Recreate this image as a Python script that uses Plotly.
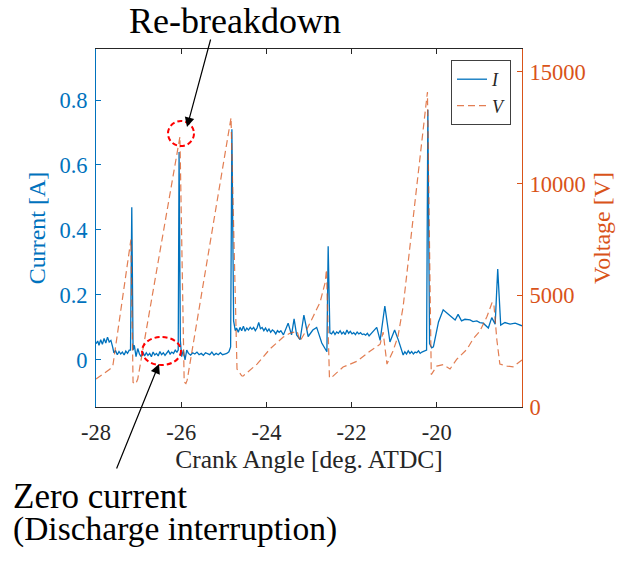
import plotly.graph_objects as go

# ---------------- data ----------------
crank_I = [-28.00, -27.96, -27.93, -27.89, -27.85, -27.81, -27.77, -27.73, -27.69, -27.65,
           -27.61, -27.58, -27.54, -27.50, -27.46, -27.42, -27.38, -27.34, -27.30, -27.26,
           -27.22, -27.19, -27.16, -27.13, -27.10, -27.06, -27.02, -26.98, -26.94, -26.90,
           -26.86, -26.82, -26.78, -26.74, -26.70, -26.66, -26.62, -26.58, -26.54, -26.50,
           -26.46, -26.42, -26.38, -26.34, -26.30, -26.26, -26.22, -26.18, -26.14, -26.10,
           -26.07, -26.05, -26.02, -25.99, -25.95, -25.91, -25.87, -25.83, -25.78, -25.73,
           -25.68, -25.63, -25.58, -25.53, -25.48, -25.43, -25.38, -25.33, -25.28, -25.23,
           -25.18, -25.13, -25.08, -25.03, -24.98, -24.93, -24.88, -24.84, -24.81, -24.77,
           -24.73, -24.70, -24.66, -24.62, -24.58, -24.54, -24.50, -24.46, -24.42, -24.38,
           -24.34, -24.30, -24.26, -24.22, -24.18, -24.14, -24.10, -24.06, -24.02, -23.98,
           -23.94, -23.90, -23.86, -23.82, -23.78, -23.74, -23.70, -23.66, -23.60, -23.49,
           -23.41, -23.35, -23.29, -23.21, -23.12, -23.02, -22.91, -22.82, -22.70, -22.58,
           -22.55, -22.51, -22.47, -22.43, -22.39, -22.35, -22.31, -22.27, -22.23, -22.19,
           -22.15, -22.11, -22.07, -22.03, -21.99, -21.95, -21.91, -21.87, -21.83, -21.79,
           -21.75, -21.71, -21.67, -21.63, -21.59, -21.55, -21.41, -21.33, -21.22, -21.10,
           -20.99, -20.90, -20.79, -20.75, -20.71, -20.67, -20.63, -20.59, -20.55, -20.51,
           -20.47, -20.43, -20.39, -20.35, -20.31, -20.27, -20.24, -20.21, -20.17, -20.12,
           -20.08, -19.96, -19.85, -19.77, -19.65, -19.57, -19.50, -19.42, -19.34, -19.22,
           -19.15, -19.06, -18.99, -18.91, -18.79, -18.71, -18.63, -18.57, -18.50, -18.40,
           -18.28, -18.16, -18.00]
current_A = [0.050, 0.058, 0.045, 0.062, 0.048, 0.066, 0.052, 0.070, 0.055, 0.060,
             0.040, 0.022, 0.028, 0.016, 0.026, 0.018, 0.024, 0.015, 0.027, 0.020,
             0.030, 0.030, 0.470, 0.030, 0.045, 0.010, 0.035, 0.018, 0.010, 0.025,
             0.012, 0.022, 0.014, 0.020, 0.010, 0.024, 0.015, 0.020, 0.012, 0.026,
             0.016, 0.022, 0.014, 0.020, 0.028, 0.018, 0.024, 0.020, 0.030, 0.024,
             0.030, 0.640, 0.060, 0.010, 0.030, 0.000, 0.030, 0.020, 0.015, 0.022,
             0.018, 0.024, 0.016, 0.020, 0.014, 0.022, 0.018, 0.016, 0.024, 0.015,
             0.020, 0.016, 0.022, 0.016, 0.018, 0.020, 0.025, 0.040, 0.710, 0.120,
             0.090, 0.098, 0.085, 0.100, 0.090, 0.104, 0.088, 0.098, 0.092, 0.100,
             0.094, 0.100, 0.090, 0.098, 0.115, 0.096, 0.100, 0.090, 0.098, 0.088,
             0.095, 0.085, 0.092, 0.088, 0.080, 0.090, 0.085, 0.090, 0.077, 0.113,
             0.077, 0.126, 0.077, 0.062, 0.138, 0.072, 0.092, 0.100, 0.052, 0.025,
             0.350, 0.083, 0.080, 0.088, 0.078, 0.086, 0.082, 0.090, 0.080, 0.086,
             0.078, 0.092, 0.082, 0.088, 0.080, 0.084, 0.078, 0.086, 0.080, 0.084,
             0.078, 0.080, 0.076, 0.082, 0.074, 0.080, 0.100, 0.060, 0.166, 0.055,
             0.092, 0.060, 0.015, 0.025, 0.018, 0.028, 0.020, 0.026, 0.018, 0.024,
             0.022, 0.028, 0.020, 0.024, 0.026, 0.030, 0.030, 0.770, 0.050, 0.037,
             0.040, 0.117, 0.154, 0.145, 0.132, 0.123, 0.140, 0.120, 0.125, 0.123,
             0.118, 0.120, 0.115, 0.113, 0.098, 0.130, 0.110, 0.280, 0.107, 0.115,
             0.110, 0.113, 0.105]

crank_V = [-28.00, -27.79, -27.67, -27.60, -27.18, -27.13, -27.07, -27.02, -26.03, -25.93,
           -25.89, -25.86, -24.83, -24.69, -24.58, -24.55, -24.22, -23.92, -23.61, -23.45,
           -23.28, -23.21, -23.05, -22.91, -22.74, -22.62, -22.59, -22.52, -22.46, -22.20,
           -21.87, -21.57, -21.33, -21.26, -21.17, -21.03, -20.91, -20.79, -20.22, -20.13,
           -20.00, -19.85, -19.69, -19.53, -19.29, -19.15, -18.99, -18.82, -18.70, -18.66,
           -18.59, -18.52, -18.35, -18.21, -18.05, -18.00]
voltage_V = [1250, 1560, 1700, 1900, 7500, 1100, 1030, 1250, 12100, 1120,
             1050, 1200, 12950, 1700, 1400, 1380, 1920, 2590, 3125, 3300,
             3390, 2950, 3480, 4020, 4690, 5580, 6150, 1300, 1340, 1790,
             2050, 2500, 2810, 3350, 1920, 2500, 3170, 4500, 14100, 1450,
             1830, 1900, 1700, 2140, 2590, 3040, 3390, 4060, 4690, 4600,
             3000, 1920, 1830, 1800, 2050, 2100]

x_ticks = [-28, -26, -24, -22, -20]
i_ticks = [0, 0.2, 0.4, 0.6, 0.8]
i_tick_labels = ["0", "0.2", "0.4", "0.6", "0.8"]
v_ticks = [0, 5000, 10000, 15000]
v_tick_labels = ["0", "5000", "10000", "15000"]

# ---------------- layout geometry ----------------
W, H = 619, 563
ML, MR, MT, MB = 96, 97, 49, 156
PW, PH = W - ML - MR, H - MT - MB


def pxx(x):
    return (x - ML) / PW


def pxy(y):
    return (H - MB - y) / PH


BLUE = "#0072BD"
ORANGE = "#D95319"
DARK = "#262626"
FONT = "Liberation Serif"

fig = go.Figure()
fig.add_trace(go.Scatter(x=crank_I, y=current_A, mode="lines", name="<i>I</i>",
                         line=dict(color=BLUE, width=1.3), yaxis="y"))
fig.add_trace(go.Scatter(x=crank_V, y=voltage_V, mode="lines", name="<i>V</i>",
                         line=dict(color=ORANGE, width=1.2, dash="7px,4px"),
                         opacity=0.75, yaxis="y2"))

fig.update_layout(
    width=W, height=H,
    margin=dict(l=ML, r=MR, t=MT, b=MB, pad=0),
    paper_bgcolor="white", plot_bgcolor="white",
    font=dict(family=FONT, size=22, color=DARK),
    showlegend=True,
    legend=dict(x=pxx(511), xanchor="right", y=pxy(60), yanchor="top",
                bgcolor="white", bordercolor="#404040", borderwidth=1,
                font=dict(family=FONT, size=18, color=DARK),
                tracegroupgap=0, itemwidth=30),
    xaxis=dict(range=[-28, -18], tickvals=x_ticks, ticktext=[str(v) for v in x_ticks],
               ticks="inside", ticklen=5, tickwidth=1, tickcolor=DARK,
               showline=True, linecolor=DARK, linewidth=1, mirror="ticks",
               showgrid=False, zeroline=False, automargin=False,
               tickfont=dict(family=FONT, size=22.5, color=DARK), ticklabelstandoff=5,
               title=dict(text="Crank Angle [deg. ATDC]", standoff=5,
                          font=dict(family=FONT, size=25.5, color=DARK))),
    yaxis=dict(range=[-0.145, 0.957], tickvals=i_ticks, ticktext=i_tick_labels,
               ticks="inside", ticklen=5, tickwidth=1, tickcolor=BLUE,
               showline=True, linecolor=BLUE, linewidth=1,
               showgrid=False, zeroline=False, automargin=False,
               tickfont=dict(family=FONT, size=22.5, color=BLUE), ticklabelstandoff=3,
               title=dict(text="Current [A]", standoff=6,
                          font=dict(family=FONT, size=24, color=BLUE))),
    yaxis2=dict(range=[0, 16027], tickvals=v_ticks, ticktext=v_tick_labels,
                overlaying="y", side="right",
                ticks="inside", ticklen=5, tickwidth=1, tickcolor=ORANGE,
                showline=True, linecolor=ORANGE, linewidth=1,
                showgrid=False, zeroline=False, automargin=False,
                tickfont=dict(family=FONT, size=22.5, color=ORANGE), ticklabelstandoff=2,
                title=dict(text="Voltage [V]", standoff=8,
                           font=dict(family=FONT, size=24, color=ORANGE))),
)

# red dashed circles
fig.add_shape(type="circle", xref="paper", yref="paper",
              x0=pxx(168), x1=pxx(194), y0=pxy(146), y1=pxy(121),
              line=dict(color="red", width=2, dash="5px,3px"))
fig.add_shape(type="circle", xref="paper", yref="paper",
              x0=pxx(142), x1=pxx(181), y0=pxy(365), y1=pxy(337),
              line=dict(color="red", width=2, dash="5px,3px"))

# annotation texts
fig.add_annotation(text="Re-breakdown", xref="paper", yref="paper",
                   x=pxx(235), y=pxy(21), xanchor="center", yanchor="middle",
                   showarrow=False, font=dict(family=FONT, size=36, color="black"))
fig.add_annotation(text="Zero current", xref="paper", yref="paper",
                   x=pxx(11), y=pxy(496), xanchor="left", yanchor="middle",
                   showarrow=False, font=dict(family=FONT, size=35, color="black"))
fig.add_annotation(text="(Discharge interruption)", xref="paper", yref="paper",
                   x=pxx(11), y=pxy(529), xanchor="left", yanchor="middle",
                   showarrow=False, font=dict(family=FONT, size=33.5, color="black"))

# arrows
fig.add_annotation(text="", xref="paper", yref="paper", x=pxx(187), y=pxy(127),
                   ax=211 - 187, ay=38 - 127, showarrow=True,
                   arrowhead=2, arrowsize=1.6, arrowwidth=1.2, arrowcolor="black")
fig.add_annotation(text="", xref="paper", yref="paper", x=pxx(159), y=pxy(364),
                   ax=116 - 159, ay=470 - 364, showarrow=True,
                   arrowhead=2, arrowsize=1.6, arrowwidth=1.2, arrowcolor="black")

fig.write_html("out.html")
